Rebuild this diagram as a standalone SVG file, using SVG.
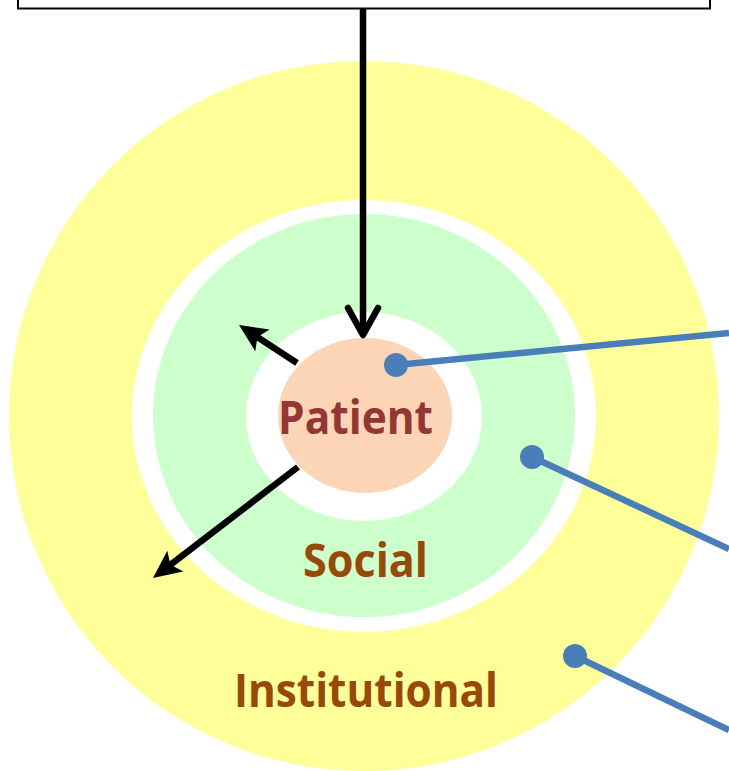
<svg xmlns="http://www.w3.org/2000/svg" width="729" height="771" viewBox="0 0 729 771">
<style>
.lbl{font-family:"Open Sans","Liberation Sans",Arial,sans-serif;font-weight:bold;font-size:46px;text-anchor:middle}
.blk{stroke:#000;stroke-width:6.5;fill:none}
.blue{stroke:#4a7ebb;stroke-width:6.5;fill:none}
.dot{fill:#4a7ebb}
</style>
<defs>
<marker id="ah" markerUnits="userSpaceOnUse" markerWidth="30" markerHeight="28" viewBox="0 0 30 28" refX="14" refY="14" orient="auto">
<path d="M0,1 L28,14 L0,27 L6,14 z" fill="#000"/>
</marker>
</defs>
<rect width="729" height="771" fill="#fff"/>
<g id="top-box"><rect x="18" y="-20" width="692" height="28.5" fill="#fff" stroke="#000" stroke-width="2"/></g>
<g id="institutional">
<circle cx="364" cy="416" r="355" fill="#ffff99"/>
<text class="lbl" x="366" y="707" fill="#984807" textLength="264" lengthAdjust="spacingAndGlyphs">Institutional</text>
</g>
<g id="social">
<ellipse cx="364" cy="416" rx="232" ry="216" fill="#fff"/>
<ellipse cx="364" cy="415.5" rx="211" ry="201.5" fill="#ccffcc"/>
<text class="lbl" x="365.5" y="577" fill="#984807" textLength="125" lengthAdjust="spacingAndGlyphs">Social</text>
</g>
<g id="patient">
<ellipse cx="364" cy="416.5" rx="118" ry="104.5" fill="#fff"/>
<ellipse cx="365" cy="415.5" rx="87" ry="77.5" fill="#fbd5b5"/>
<text class="lbl" x="355.5" y="434" fill="#943634" textLength="155" lengthAdjust="spacingAndGlyphs">Patient</text>
</g>
<g id="connectors">
<line class="blk" x1="363" y1="9" x2="363" y2="334"/>
<polyline class="blk" points="348,308 363,335 378,308" stroke-linecap="round" stroke-linejoin="round"/>
<line class="blk" x1="297" y1="363" x2="250.7" y2="332.7" marker-end="url(#ah)"/>
<line class="blk" x1="298" y1="467" x2="164.1" y2="569.6" marker-end="url(#ah)"/>
<line class="blue" x1="396" y1="365" x2="729" y2="333"/>
<circle class="dot" cx="396" cy="365" r="12"/>
<line class="blue" x1="532" y1="457" x2="729" y2="549"/>
<circle class="dot" cx="532" cy="457" r="12"/>
<line class="blue" x1="575" y1="656" x2="729" y2="730"/>
<circle class="dot" cx="575" cy="656" r="12"/>
</g>
</svg>
